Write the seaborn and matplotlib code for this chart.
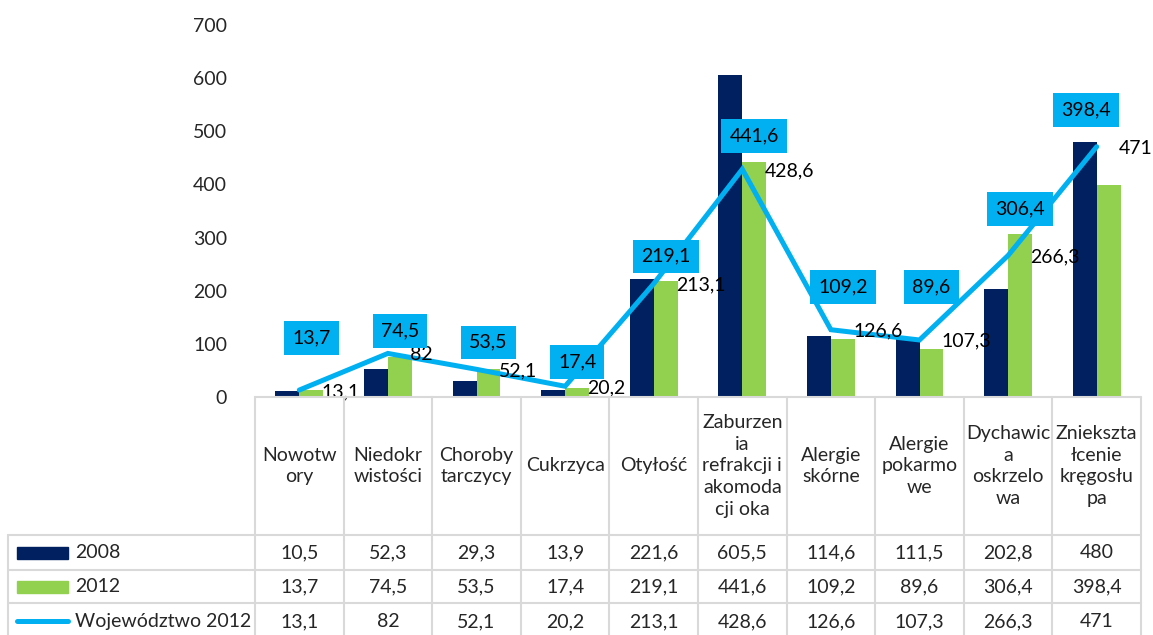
import numpy as np
import pandas as pd
import seaborn as sns
import matplotlib.pyplot as plt
from matplotlib.transforms import blended_transform_factory
from matplotlib.patches import Rectangle
from matplotlib.lines import Line2D

categories = ["Nowotwory", "Niedokrwistości", "Choroby tarczycy", "Cukrzyca", "Otyłość",
              "Zaburzenia refrakcji i akomodacji oka", "Alergie skórne", "Alergie pokarmowe",
              "Dychawica oskrzelowa", "Zniekształcenie kręgosłupa"]
# wrapped the way the table header shows them
header_labels = ["Nowotw\nory", "Niedokr\nwistości", "Choroby\ntarczycy", "Cukrzyca", "Otyłość",
                 "Zaburzen\nia\nrefrakcji i\nakomoda\ncji oka", "Alergie\nskórne", "Alergie\npokarmo\nwe",
                 "Dychawic\na\noskrzelo\nwa", "Zniekszta\nłcenie\nkręgosłu\npa"]
v2008 = [10.5, 52.3, 29.3, 13.9, 221.6, 605.5, 114.6, 111.5, 202.8, 480]
v2012 = [13.7, 74.5, 53.5, 17.4, 219.1, 441.6, 109.2, 89.6, 306.4, 398.4]
woj2012 = [13.1, 82, 52.1, 20.2, 213.1, 428.6, 126.6, 107.3, 266.3, 471]
series_names = ["2008", "2012", "Województwo 2012"]
y_ticks = [0, 100, 200, 300, 400, 500, 600, 700]

# where the boxed 2012 labels were placed (data units) and a sideways nudge
box_label_y = [111, 124, 103, 66, 265, 491, 207, 207, 354, 540]
box_label_dx = [0, 0, 0, 0, 0, 0, 0, 0, 0, -0.26]

NAVY = "#002060"
GREEN = "#92D050"
CYAN = "#00B0F0"
GRID = "#D9D9D9"
FS = 14


def fmt(v):
    s = f"{v:g}"
    return s.replace(".", ",")


sns.set_style("white")
plt.rcParams["font.family"] = ["Lato", "DejaVu Sans"]

W, H = 1153, 635
fig = plt.figure(figsize=(W / 100, H / 100), dpi=100)
ax = fig.add_axes([255 / W, 1 - 397 / H, (1141 - 255) / W, (397 - 25) / H])

df = pd.DataFrame({
    "cat": categories * 2,
    "val": v2008 + v2012,
    "series": [series_names[0]] * len(categories) + [series_names[1]] * len(categories),
})
sns.barplot(data=df, x="cat", y="val", hue="series", order=categories,
            palette=[NAVY, GREEN], width=0.54, saturation=1, linewidth=0,
            legend=False, ax=ax)

n = len(categories)
xs = np.arange(n)
sns.lineplot(x=xs, y=woj2012, color=CYAN, linewidth=3.6, ax=ax, zorder=3,
             solid_capstyle="round", solid_joinstyle="miter")

# line labels, right of each point
for i, v in enumerate(woj2012):
    ax.annotate(fmt(v), (i, v), xytext=(16, -1), textcoords="offset points",
                ha="left", va="center", fontsize=FS, color="black", zorder=4)

# boxed labels for the 2012 bars
for i, v in enumerate(v2012):
    ax.text(i + 0.135 + box_label_dx[i], box_label_y[i], fmt(v), ha="center", va="center",
            fontsize=FS, color="black", zorder=5,
            bbox=dict(boxstyle="square,pad=0.42", fc=CYAN, ec="none"))

ax.set_xlim(-0.5, n - 0.5)
ax.set_ylim(0, 700)
ax.set_yticks(y_ticks)
ax.set_xticks([])
ax.set_xlabel("")
ax.set_ylabel("")
ax.tick_params(axis="y", length=0, pad=20, labelsize=FS)
for s in ax.spines.values():
    s.set_visible(False)

# data table under the plot
def fy(px):
    return 1 - px / H

tx = blended_transform_factory(ax.transData, fig.transFigure)
ff = fig.transFigure
row_edges = [397, 535, 570, 603, 640]
lw = 1.5

for px in row_edges[:-1]:
    x0 = 8 / W if px >= 535 else 255 / W
    fig.add_artist(Line2D([x0, 1141 / W], [fy(px), fy(px)], color=GRID, lw=lw, transform=ff))
for b in np.arange(n + 1) - 0.5:
    fig.add_artist(Line2D([b, b], [fy(397), fy(640)], color=GRID, lw=lw, transform=tx))
fig.add_artist(Line2D([8 / W, 8 / W], [fy(535), fy(640)], color=GRID, lw=lw, transform=ff))

for i, lab in enumerate(header_labels):
    fig.text(i, fy((397 + 535) / 2), lab, transform=tx, ha="center", va="center",
             fontsize=FS, linespacing=1.33)

rows = [v2008, v2012, woj2012]
for r, vals in enumerate(rows):
    yc = fy((row_edges[r + 1] + row_edges[r + 2]) / 2)
    for i, v in enumerate(vals):
        fig.text(i, yc, fmt(v), transform=tx, ha="center", va="center", fontsize=FS)
    fig.text(75 / W, yc, series_names[r], transform=ff, ha="left", va="center", fontsize=FS)

# legend keys inside the table
for r, col in enumerate([NAVY, GREEN]):
    yc = (row_edges[r + 1] + row_edges[r + 2]) / 2
    fig.add_artist(Rectangle((17 / W, fy(yc + 6)), 51 / W, 12 / H, color=col, transform=ff))
yc = fy((row_edges[3] + row_edges[4]) / 2 - 1)
fig.add_artist(Line2D([17 / W, 68 / W], [yc, yc], color=CYAN, lw=3.6,
                      solid_capstyle="round", transform=ff))

fig.savefig("out.png", dpi=100)
